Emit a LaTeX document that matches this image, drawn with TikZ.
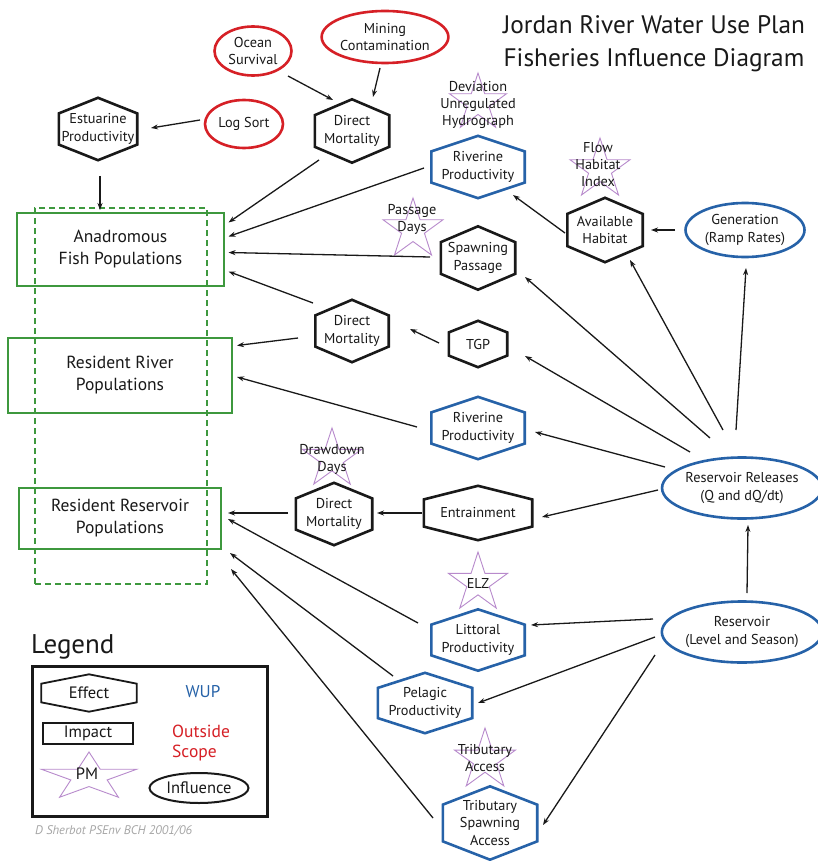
\documentclass[tikz,border=0pt]{standalone}
\usepackage{fontspec}
\setmainfont{PT Sans}
\usetikzlibrary{shapes.geometric,arrows.meta,calc}
\definecolor{wupblue}{RGB}{38,98,168}
\definecolor{outred}{RGB}{214,32,38}
\definecolor{popgreen}{RGB}{62,152,62}
\definecolor{pmpurple}{RGB}{184,138,204}
\definecolor{inkc}{RGB}{25,25,25}
\newcommand\hexdraw[2]{\draw[#2] (#1.north) -- ($(#1.north east)!0.25!(#1.south east)$) -- ($(#1.north east)!0.75!(#1.south east)$) -- (#1.south) -- ($(#1.north west)!0.75!(#1.south west)$) -- ($(#1.north west)!0.25!(#1.south west)$) -- cycle;}
\begin{document}
\begin{tikzpicture}[x=1pt,y=-1pt,
  every node/.style={align=center, inner sep=0pt, text=inkc},
  ntext/.style={font=\fontsize{14.3}{17.5}\selectfont},
  hexnode/.style 2 args={rectangle, ntext, minimum width=#1, minimum height=#2},
  hexblack/.style={draw=inkc, line width=2.6pt, line join=miter},
  hexblue/.style={draw=wupblue, line width=2.6pt, line join=miter},
  redell/.style={ellipse, ntext, draw=outred, line width=2.6pt},
  blueell/.style={ellipse, ntext, draw=wupblue, line width=2.6pt},
  popbox/.style={rectangle, draw=popgreen, line width=2.4pt, font=\fontsize{17.5}{22}\selectfont},
  pmstar/.style={star, star points=5, star point ratio=2.618, draw=pmpurple, line width=0.9pt},
  startext/.style={font=\fontsize{14.3}{17}\selectfont},
  legtext/.style={font=\fontsize{16.5}{19}\selectfont},
  conn/.style={line width=1.3pt, draw=inkc, -{Stealth[length=7pt,width=5pt]}}
]
\useasboundingbox[fill=white] (0,0) rectangle (817,861);

% title
\node[font=\fontsize{25.3}{33}\selectfont] (title) at (654,44) {Jordan River Water Use Plan\\Fisheries Influence Diagram};

% stars (performance measures)
\node[pmstar, minimum size=60pt] (sDev) at (478,103) {};
\node[pmstar, minimum size=63pt] (sFlow) at (600,169.5) {};
\node[pmstar, minimum size=63pt] (sPass) at (413,229.5) {};
\node[pmstar, minimum size=62pt] (sDraw) at (332,459) {};
\node[pmstar, minimum size=62pt] (sElz) at (478,583) {};
\node[pmstar, minimum size=64pt] (sTrib) at (485,760) {};

% hexagons (effects)
\node[hexnode={78pt}{62pt}] (est) at (98,129) {Estuarine\\Productivity};
\node[hexnode={74pt}{63pt}] (dm1) at (352,131) {Direct\\Mortality};
\node[hexnode={93pt}{62pt}] (rivT) at (478,167) {Riverine\\Productivity};
\node[hexnode={75pt}{64pt}] (avh) at (605,230) {Available\\Habitat};
\node[hexnode={74pt}{63pt}] (spp) at (478,258) {Spawning\\Passage};
\node[hexnode={73pt}{62pt}] (dm2) at (352,331) {Direct\\Mortality};
\node[hexnode={58pt}{46pt}] (tgp) at (478,344) {TGP};
\node[hexnode={93pt}{62pt}] (rivM) at (478,428) {Riverine\\Productivity};
\node[hexnode={76pt}{62pt}] (dm3) at (334,514) {Direct\\Mortality};
\node[hexnode={108pt}{54pt}] (ent) at (478,513) {Entrainment};
\node[hexnode={93pt}{61pt}] (lit) at (478,640) {Littoral\\Productivity};
\node[hexnode={94pt}{60pt}] (pel) at (425,703) {Pelagic\\Productivity};
\node[hexnode={94pt}{73pt}] (trib) at (490,823) {Tributary\\Spawning\\Access};
\foreach \n in {est,dm1,avh,spp,dm2,tgp,dm3,ent} {\hexdraw{\n}{hexblack}}
\foreach \n in {rivT,rivM,lit,pel,trib} {\hexdraw{\n}{hexblue}}

% star texts
\node[startext] (tDev) at (478,105) {Deviation\\Unregulated\\Hydrograph};
\node[startext] (tFlow) at (598,165) {Flow\\Habitat\\Index};
\node[startext] (tPass) at (412,219) {Passage\\Days};
\node[startext] (tDraw) at (332,459) {Drawdown\\Days};
\node[startext] (tElz) at (478,583) {ELZ};
\node[startext] (tTrib) at (485,758) {Tributary\\Access};

% ellipses (influences)
\node[redell, minimum width=77pt, minimum height=49pt] (ocean) at (253,51) {Ocean\\Survival};
\node[redell, minimum width=120pt, minimum height=52pt] (mining) at (385,37) {Mining\\Contamination};
\node[redell, minimum width=78pt, minimum height=48pt] (logsort) at (244,124) {Log Sort};
\node[blueell, minimum width=119pt, minimum height=54pt] (gen) at (745,230) {Generation\\(Ramp Rates)};
\node[blueell, minimum width=148pt, minimum height=61pt] (rel) at (742,488) {Reservoir Releases\\(Q and dQ/dt)};
\node[blueell, minimum width=148pt, minimum height=61pt] (res) at (742,632) {Reservoir\\(Level and Season)};

% population boxes (impacts)
\node[popbox, minimum width=207pt, minimum height=73pt] (ana) at (120.5,249.5) {Anadromous\\Fish Populations};
\node[popbox, minimum width=224pt, minimum height=75pt] (rriv) at (120,375.5) {Resident River\\Populations};
\node[popbox, minimum width=202pt, minimum height=61pt] (rres) at (120,518.5) {Resident Reservoir\\Populations};
\node[draw=popgreen, line width=2.4pt, dash pattern=on 6pt off 4pt, minimum width=172pt, minimum height=376pt] (dash) at (121,396) {};

% connectors
\draw[conn] ($(ocean)+(35,25)$) -- ($(dm1)+(-19,-31)$);
\draw[conn] ($(mining)+(-5,31)$) -- ($(dm1)+(21,-34)$);
\draw[conn] ($(logsort)+(-44,-4)$) -- ($(est)+(53,-1)$);
\draw[conn] ($(est)+(2,47)$) -- ($(dash)+(-21,-186)$);
\draw[conn] ($(dm1)+(-33,29)$) -- ($(ana)+(108,-27)$);
\draw[conn] ($(rivT)+(-54,1)$) -- ($(ana)+(108,-13)$);
\draw[conn] ($(spp)+(-48,-1)$) -- ($(ana)+(108,3)$);
\draw[conn] ($(dm2)+(-39,-28)$) -- ($(ana)+(108,22)$);
\draw[conn] ($(dm2)+(-54,7)$) -- ($(rriv)+(117,-30)$);
\draw[conn] ($(tgp)+(-39,-1)$) -- ($(dm2)+(58,-2)$);
\draw[conn] ($(rivM)+(-61,-1)$) -- ($(rriv)+(117,1.5)$);
\draw[conn] ($(rel)+(-77,-21)$) -- ($(rivM)+(57,4)$);
\draw[conn] ($(rel)+(-52,-36)$) -- ($(tgp)+(47,12)$);
\draw[conn] ($(rel)+(-32,-50)$) -- ($(spp)+(47,19)$);
\draw[conn] ($(rel)+(-19,-58)$) -- ($(avh)+(25,30)$);
\draw[conn] ($(rel)+(-6,-58)$) -- ($(gen)+(1,38)$);
\draw[conn] ($(rel)+(-84,2)$) -- ($(ent)+(64,4)$);
\draw[conn] ($(ent)+(-56,0)$) -- ($(dm3)+(43,-1)$);
\draw[conn] ($(dm3)+(-46,-1)$) -- ($(rres)+(108,-5.5)$);
\draw[conn] ($(gen)+(-70,0)$) -- ($(avh)+(46,0)$);
\draw[conn] ($(avh)+(-40,3)$) -- ($(rivT)+(35,28)$);
\draw[conn] ($(res)+(5,-39)$) -- ($(rel)+(6,37)$);
\draw[conn] ($(res)+(-89,-13)$) -- ($(lit)+(53,-15)$);
\draw[conn] ($(res)+(-87,5)$) -- ($(pel)+(53,0)$);
\draw[conn] ($(res)+(-87,23)$) -- ($(trib)+(53,2)$);
\draw[conn] ($(lit)+(-60,-17)$) -- ($(rres)+(108,0.5)$);
\draw[conn] ($(pel)+(-32,-27)$) -- ($(rres)+(110,34.5)$);
\draw[conn] ($(trib)+(-57,-5)$) -- ($(rres)+(111,50.5)$);

% legend
\node[font=\fontsize{27}{30}\selectfont, anchor=west] (legtitle) at (31,647) {Legend};
\node[draw=inkc, line width=3pt, minimum width=235pt, minimum height=150pt] (legbox) at (149.5,741) {};
\node[hexnode={95pt}{37pt}, legtext] (lgEffect) at (89,693) {Effect};
\hexdraw{lgEffect}{draw=inkc, line width=1.8pt}
\node[draw=inkc, line width=2pt, minimum width=90pt, minimum height=21pt, legtext] (lgImpact) at (88,733.5) {Impact};
\draw[draw=pmpurple, line width=0.9pt, shift={(89,777)}, xscale=2.0]
  (270:25) -- (306:9.55) -- (342:25) -- (18:9.55) -- (54:25) -- (90:9.55) -- (126:25) -- (162:9.55) -- (198:25) -- (234:9.55) -- cycle;
\node[legtext] (lgPM) at (87,774) {PM};
\node[ellipse, draw=inkc, line width=2pt, minimum width=99pt, minimum height=30pt, legtext] (lgInfl) at (199,788) {Influence};
\node[font=\fontsize{17}{20}\selectfont, text=wupblue] (lgWup) at (203,692) {WUP};
\node[font=\fontsize{17.5}{20}\selectfont, text=outred, align=left, anchor=west] (lgOut) at (172,743) {Outside\\Scope};
\node[font=\fontsize{12.5}{14}\selectfont\itshape, text=black!35, anchor=west] (credit) at (35,831) {D Sherbot PSEnv BCH 2001/06};
\end{tikzpicture}
\end{document}
